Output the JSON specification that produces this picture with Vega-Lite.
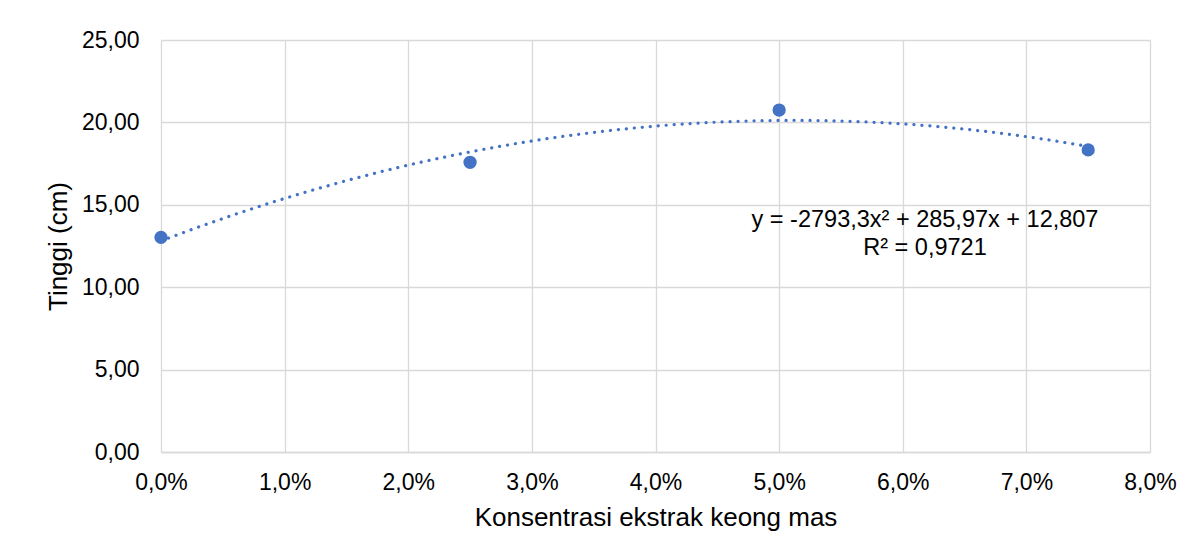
{
  "$schema": "https://vega.github.io/schema/vega-lite/v6.json",
  "width": 989,
  "height": 412,
  "autosize": {"type": "none"},
  "padding": {"left": 161, "top": 40, "right": 45, "bottom": 105},
  "background": "white",
  "config": {
    "locale": {"number": {"decimal": ",", "thousands": ".", "grouping": [3], "currency": ["Rp", ""]}},
    "font": "Liberation Sans",
    "view": {"stroke": null},
    "axis": {
      "gridColor": "#D9D9D9",
      "gridWidth": 1.3,
      "ticks": false,
      "labelFont": "Liberation Sans",
      "titleFont": "Liberation Sans",
      "labelFontSize": 23,
      "titleFontSize": 26,
      "labelColor": "#000000",
      "titleColor": "#000000",
      "titleFontWeight": "normal"
    }
  },
  "datasets": {
    "pts": [
      {"konsentrasi": 0.0, "tinggi": 13.02},
      {"konsentrasi": 0.025, "tinggi": 17.58},
      {"konsentrasi": 0.05, "tinggi": 20.75},
      {"konsentrasi": 0.075, "tinggi": 18.33}
    ],
    "ann": [
      {"line1": "y = -2793,3x² + 285,97x + 12,807", "line2": "R² = 0,9721"}
    ]
  },
  "layer": [
    {
      "data": {"name": "pts"},
      "transform": [
        {"regression": "tinggi", "on": "konsentrasi", "method": "poly", "order": 2, "extent": [0, 0.075]}
      ],
      "mark": {
        "type": "line",
        "color": "#4472C4",
        "strokeWidth": 3.2,
        "strokeCap": "round",
        "strokeDash": [0.1, 7.9]
      },
      "encoding": {
        "x": {
          "field": "konsentrasi",
          "type": "quantitative",
          "scale": {"domain": [0, 0.08], "nice": false, "zero": true},
          "axis": {
            "title": "Konsentrasi ekstrak keong mas",
            "format": ".1%",
            "values": [0, 0.01, 0.02, 0.03, 0.04, 0.05, 0.06, 0.07, 0.08],
            "domainColor": "#D9D9D9",
            "domainWidth": 1.3,
            "labelPadding": 19,
            "titlePadding": 10,
            "labelFlush": false
          }
        },
        "y": {
          "field": "tinggi",
          "type": "quantitative",
          "scale": {"domain": [0, 25], "nice": false},
          "axis": {
            "title": "Tinggi (cm)",
            "format": ".2f",
            "values": [0, 5, 10, 15, 20, 25],
            "domain": false,
            "labelPadding": 22,
            "titlePadding": 10
          }
        }
      }
    },
    {
      "data": {"name": "pts"},
      "mark": {"type": "point", "filled": true, "size": 175, "color": "#4472C4", "opacity": 1},
      "encoding": {
        "x": {"field": "konsentrasi", "type": "quantitative"},
        "y": {"field": "tinggi", "type": "quantitative"}
      }
    },
    {
      "data": {"name": "ann"},
      "mark": {
        "type": "text",
        "fontSize": 23.5,
        "font": "Liberation Sans",
        "color": "#000000",
        "align": "center",
        "baseline": "middle"
      },
      "encoding": {
        "x": {"datum": 0.0618, "type": "quantitative"},
        "y": {"datum": 14.07, "type": "quantitative"},
        "text": {"field": "line1", "type": "nominal"}
      }
    },
    {
      "data": {"name": "ann"},
      "mark": {
        "type": "text",
        "fontSize": 23.5,
        "font": "Liberation Sans",
        "color": "#000000",
        "align": "center",
        "baseline": "middle"
      },
      "encoding": {
        "x": {"datum": 0.0618, "type": "quantitative"},
        "y": {"datum": 12.37, "type": "quantitative"},
        "text": {"field": "line2", "type": "nominal"}
      }
    }
  ]
}
